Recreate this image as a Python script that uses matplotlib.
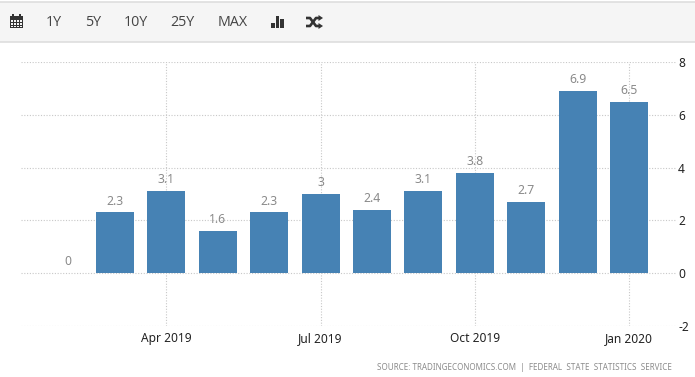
from matplotlib import pyplot as plt
from matplotlib.patches import Rectangle, Polygon

months = ["Feb 2019", "Mar 2019", "Apr 2019", "May 2019", "Jun 2019", "Jul 2019",
          "Aug 2019", "Sep 2019", "Oct 2019", "Nov 2019", "Dec 2019", "Jan 2020"]
values = [0, 2.3, 3.1, 1.6, 2.3, 3, 2.4, 3.1, 3.8, 2.7, 6.9, 6.5]
labels = ["0", "2.3", "3.1", "1.6", "2.3", "3", "2.4", "3.1", "3.8", "2.7", "6.9", "6.5"]
tick_months = ["Apr 2019", "Jul 2019", "Oct 2019", "Jan 2020"]
y_ticks = [-2, 0, 2, 4, 6, 8]
range_buttons = ["1Y", "5Y", "10Y", "25Y", "MAX"]

W, H = 695, 377
BAR = "#4682b4"
GRID = "#c8c8c8"
ICON = "#333333"
FONT = "Noto Sans"

fig = plt.figure(figsize=(W / 100, H / 100), dpi=100, facecolor="white")

# chart area in pixels: x 21..676, y 62..326
ax = fig.add_axes([21 / W, 1 - 326 / H, (676 - 21) / W, (326 - 62) / H])
x = list(range(len(months)))
step = 51.4
ax.set_xlim((21 - 63.6) / step, (676 - 63.6) / step)
ax.set_ylim(-2, 8)

ax.bar(x, values, width=38 / step, color=BAR, zorder=3)

for i, (v, t) in enumerate(zip(values, labels)):
    # the zero label sits a little right of its slot in the original
    dx = 3 if v == 0 else 0
    ax.annotate(t, (i, v), xytext=(dx, 3.5), textcoords="offset points",
                ha="center", va="bottom", fontsize=8.8, color="#8a8a8a",
                family=FONT, zorder=4)

ax.set_yticks(y_ticks)
ax.set_xticks([months.index(m) for m in tick_months])
ax.set_xticklabels(tick_months, family=FONT)
ax.set_yticklabels([str(t) for t in y_ticks], family=FONT)
ax.yaxis.tick_right()
ax.tick_params(axis="both", length=0, labelsize=8.6, labelcolor="#222222")
ax.tick_params(axis="x", pad=4)
ax.tick_params(axis="y", pad=1.5)
ax.grid(True, color=GRID, linestyle=(0, (1, 1.5)), linewidth=0.8, zorder=0)
for s in ax.spines.values():
    s.set_visible(False)

fig.text(672 / W, 1 - 368 / H, "SOURCE: TRADINGECONOMICS.COM  |  FEDERAL  STATE  STATISTICS  SERVICE",
         ha="right", va="center", fontsize=5.8, color="#8c8c8c", family=FONT)

# toolbar strip, drawn in pixel coordinates
bar = fig.add_axes([0, 0, 1, 1], zorder=5)
bar.set_xlim(0, W)
bar.set_ylim(H, 0)
bar.axis("off")
bar.patch.set_visible(False)
bar.add_patch(Rectangle((0, 2), W, 40, facecolor="#f5f5f5", edgecolor="none"))
bar.plot([0, W], [1.5, 1.5], color="#dedede", lw=1.2)
bar.plot([0, W], [42, 42], color="#dedede", lw=1.2)

for name, px in zip(range_buttons, [54, 93, 136, 182, 233]):
    bar.text(px, 22.5, name, ha="center", va="center", fontsize=10.3,
             color="#444444", family="Open Sans")

# calendar icon
bar.add_patch(Rectangle((9.5, 16), 13, 12, facecolor=ICON, edgecolor="none"))
for px in (12, 19):
    bar.add_patch(Rectangle((px, 14), 2, 3, facecolor=ICON, edgecolor="none"))
for row in (20, 23, 25.6):
    for col in (11, 14, 17, 20):
        bar.add_patch(Rectangle((col, row), 1.8, 1.6, facecolor="#f5f5f5", edgecolor="none"))

# bars icon
for px, top in [(271, 23), (275.5, 16), (280, 19)]:
    bar.add_patch(Rectangle((px, top), 3.5, 28 - top, facecolor=ICON, edgecolor="none"))

# shuffle icon
bar.plot([306, 310, 316, 319], [18, 18, 26, 26], color=ICON, lw=1.9, solid_capstyle="butt")
bar.plot([306, 310, 316, 319], [26, 26, 18, 18], color=ICON, lw=1.9, solid_capstyle="butt")
bar.add_patch(Polygon([(318.5, 15), (323, 18), (318.5, 21)], facecolor=ICON, edgecolor="none"))
bar.add_patch(Polygon([(318.5, 23), (323, 26), (318.5, 29)], facecolor=ICON, edgecolor="none"))

fig.savefig("out.png", dpi=100)
